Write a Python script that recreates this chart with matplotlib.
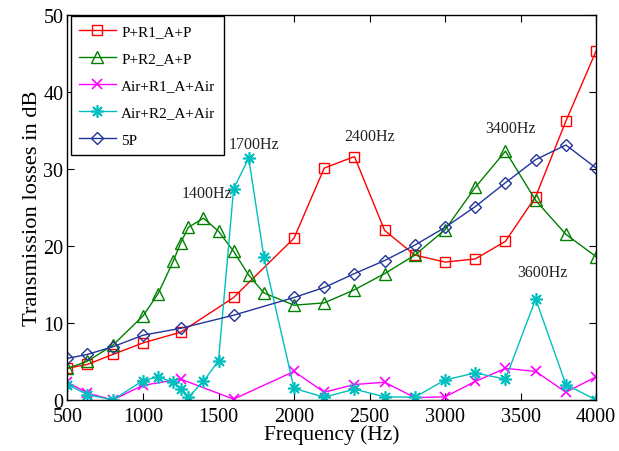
import matplotlib
matplotlib.use("Agg")
import matplotlib.pyplot as plt

plt.rcParams['font.family'] = ['Liberation Serif', 'DejaVu Serif']
plt.rcParams['mathtext.fontset'] = 'stix'

# Frequencies (Hz)
freq_main = [500, 630, 800, 1000, 1250, 1600, 2000, 2200, 2400, 2600, 2800,
             3000, 3200, 3400, 3600, 3800, 4000]
freq_fine = [500, 630, 800, 1000, 1100, 1200, 1250, 1300, 1400, 1500, 1600,
             1700, 1800, 2000, 2200, 2400, 2600, 2800, 3000, 3200, 3400,
             3600, 3800, 4000]

# Transmission losses (dB)
p_r1_p = [4.1, 4.6, 5.9, 7.4, 8.8, 13.3, 21.0, 30.1, 31.6, 22.0, 18.8,
          17.9, 18.3, 20.6, 26.4, 36.2, 45.3]
p_r2_p = [4.1, 5.0, 7.1, 10.9, 13.8, 18.0, 20.4, 22.4, 23.6, 21.9, 19.3,
          16.2, 13.9, 12.3, 12.6, 14.3, 16.4, 18.8, 22.1, 27.6, 32.3,
          25.9, 21.5, 18.6]
air_r1_air = [2.3, 0.9, 0.0, 1.9, 2.7, 0.1, 3.7, 1.0, 2.0, 2.3, 0.3,
              0.4, 2.4, 4.1, 3.7, 1.0, 3.0]
air_r2_air = [2.0, 0.7, 0.0, 2.5, 3.0, 2.3, 1.4, 0.35, 2.4, 5.1, 27.4,
              31.4, 18.6, 1.5, 0.35, 1.4, 0.4, 0.35, 2.6, 3.5, 2.7,
              13.1, 2.0, 0.0]
five_p = [5.4, 5.9, 6.9, 8.4, 9.3, 11.0, 13.3, 14.6, 16.4, 18.1, 20.1,
          22.4, 25.1, 28.2, 31.2, 33.1, 30.1]

series_labels = ['P+R1_A+P', 'P+R2_A+P', 'Air+R1_A+Air', 'Air+R2_A+Air', '5P']

# Resonance peak annotations: (text, x, y)
peak_labels = ['1400Hz', '1700Hz', '2400Hz', '3400Hz', '3600Hz']
peak_x = [1424, 1733, 2503, 3435, 3645]
peak_y = [26.9, 33.2, 34.3, 35.3, 16.6]

x_ticks = [500, 1000, 1500, 2000, 2500, 3000, 3500, 4000]
y_ticks = [0, 10, 20, 30, 40, 50]

fig = plt.figure(figsize=(6.19, 4.52), dpi=100)
ax = fig.add_axes([0.109, 0.113, 0.854, 0.852])

lw = 1.0
ax.plot(freq_main, p_r1_p, color='#ff0000', lw=lw, marker='s', ms=6.5,
        mfc='none', mew=1.0, label=series_labels[0])
ax.plot(freq_fine, p_r2_p, color='#008000', lw=lw, marker='^', ms=8,
        mfc='none', mew=1.0, label=series_labels[1])
ax.plot(freq_main, air_r1_air, color='#ff00ff', lw=lw, marker='x', ms=7,
        mew=1.2, label=series_labels[2])
ax.plot(freq_fine, air_r2_air, color='#00bfbf', lw=lw, marker=(8, 2, 0),
        ms=9, mew=1.2, label=series_labels[3])
ax.plot(freq_main, five_p, color='#22349a', lw=lw, marker='D', ms=6.5,
        mfc='none', mew=1.0, label=series_labels[4])

for txt, xx, yy in zip(peak_labels, peak_x, peak_y):
    ax.text(xx, yy, txt, ha='center', va='center', fontsize=11.5, color='#222222')

ax.set_xlim(500, 4000)
ax.set_ylim(0, 50)
ax.set_xticks(x_ticks)
ax.set_yticks(y_ticks)
ax.tick_params(direction='in', top=True, right=True, labelsize=14.5,
               length=5, width=0.8)
ax.tick_params(axis='x', pad=5)
ax.tick_params(axis='y', pad=3)
for sp in ax.spines.values():
    sp.set_linewidth(1.0)

ax.set_xlabel('Frequency (Hz)', fontsize=15.5, labelpad=-1)
ax.set_ylabel('Transmission losses in dB', fontsize=16.2, labelpad=1)

leg = ax.legend(loc='upper left', bbox_to_anchor=(0.006, 0.997),
                borderaxespad=0, fontsize=11, frameon=True, fancybox=False,
                edgecolor='black', framealpha=1, handlelength=2.4,
                labelspacing=0.88, handletextpad=0.35, borderpad=0.55)
leg.get_frame().set_linewidth(1.0)

fig.savefig('out.png', dpi=100)
